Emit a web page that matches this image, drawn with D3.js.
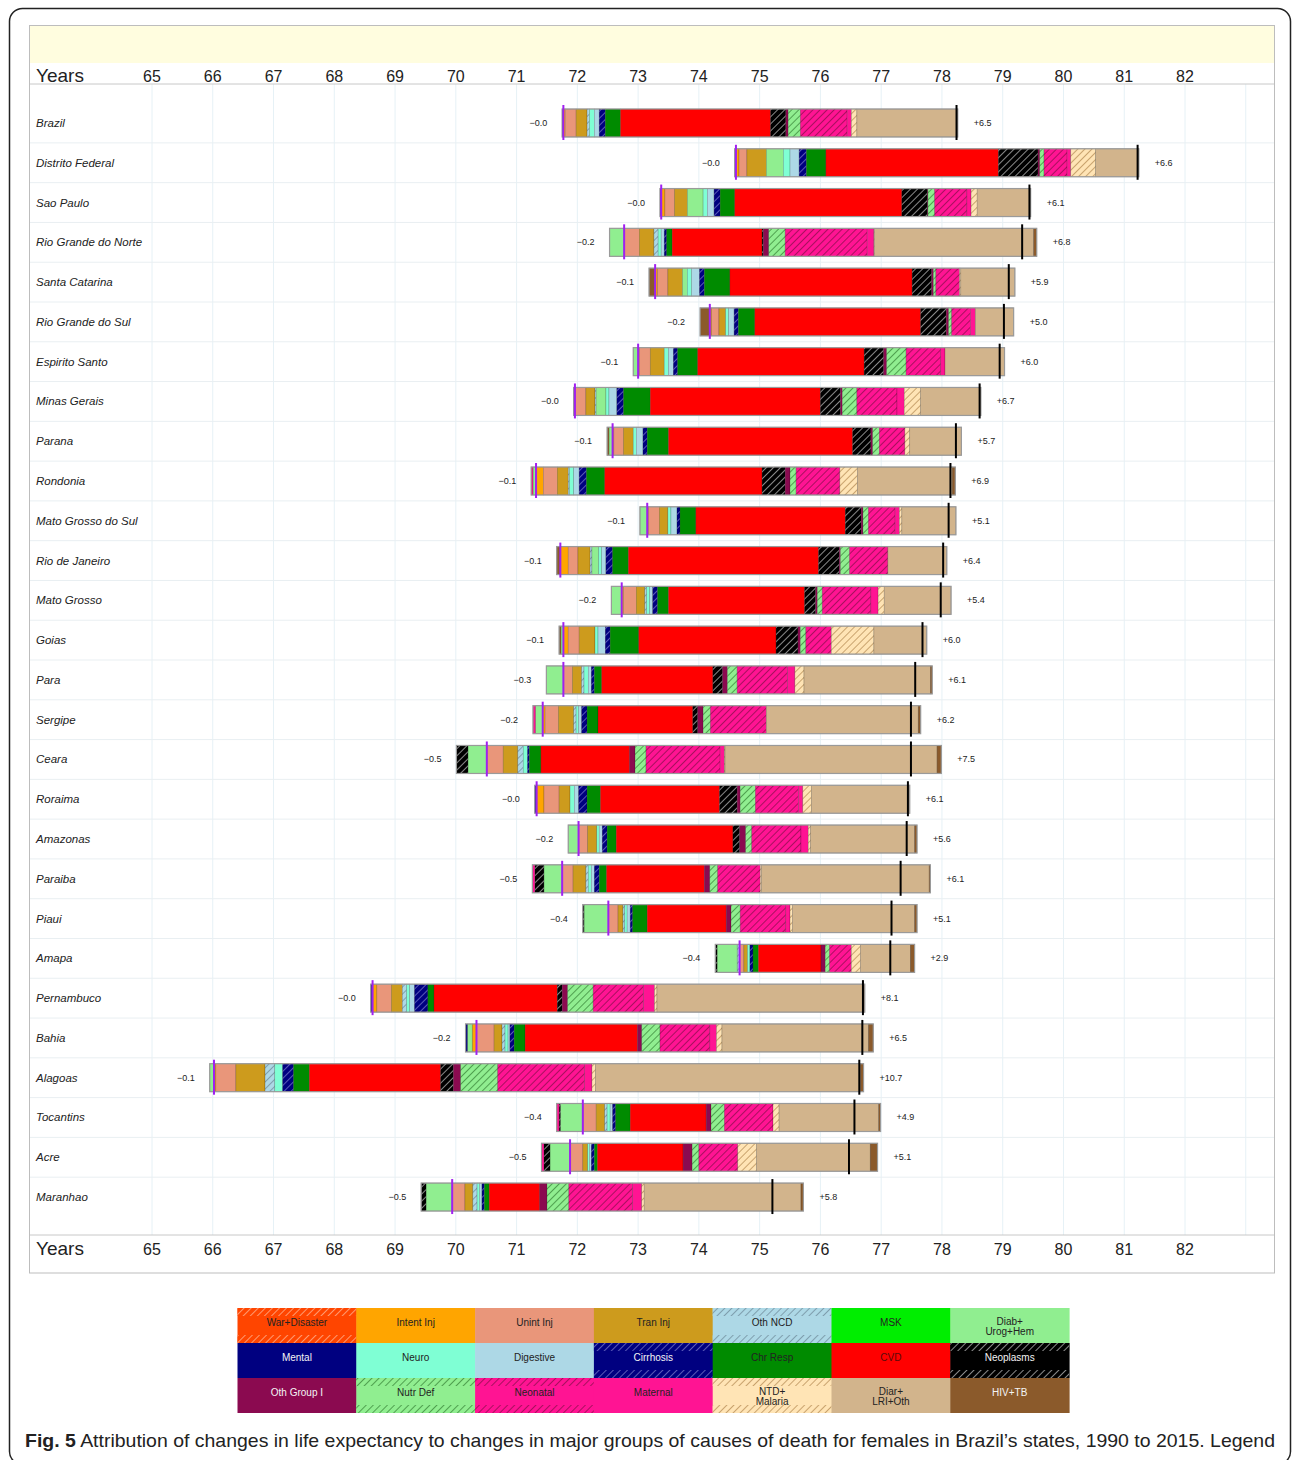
<!DOCTYPE html>
<html>
<head>
<meta charset="utf-8">
<script src="https://cdn.jsdelivr.net/npm/d3@7"></script>
<style>
  body { margin: 0; background: #fff; }
  text { font-family: "Liberation Sans", Arial, sans-serif; }
</style>
</head>
<body>
<script>
// ---- data ----
const states = ["Brazil", "Distrito Federal", "Sao Paulo", "Rio Grande do Norte", "Santa Catarina",
  "Rio Grande do Sul", "Espirito Santo", "Minas Gerais", "Parana", "Rondonia", "Mato Grosso do Sul",
  "Rio de Janeiro", "Mato Grosso", "Goias", "Para", "Sergipe", "Ceara", "Roraima", "Amazonas",
  "Paraiba", "Piaui", "Amapa", "Pernambuco", "Bahia", "Alagoas", "Tocantins", "Acre", "Maranhao"];

// life expectancy 1990 (purple marker)
const le1990 = [71.77, 74.61, 73.38, 72.77, 73.28, 74.18, 73.00, 71.96, 72.58, 71.32, 73.15,
  71.72, 72.73, 71.77, 71.77, 71.43, 70.51, 71.33, 72.02, 71.75, 72.51, 74.67, 68.63, 70.34,
  66.02, 72.09, 71.88, 69.94];

const causes = ["War+Disaster", "Intent Inj", "Unint Inj", "Tran Inj", "Oth NCD", "MSK", "Diab+\nUrog+Hem",
  "Mental", "Neuro", "Digestive", "Cirrhosis", "Chr Resp", "CVD", "Neoplasms",
  "Oth Group I", "Nutr Def", "Neonatal", "Maternal", "NTD+\nMalaria", "Diar+\nLRI+Oth", "HIV+TB"];

// contribution (years) of each cause, same order as causes
const contrib = [
  [0, 0.03, 0.18, 0.18, 0.04, 0, 0, -0.02, 0.08, 0.08, 0.10, 0.25, 2.47, 0.25, 0.04, 0.20, 0.77, 0.07, 0.09, 1.66, 0],
  [0, 0.05, 0.13, 0.32, 0, 0, 0.28, -0.02, 0.11, 0.15, 0.12, 0.32, 2.84, 0.65, 0.03, 0.07, 0.38, 0.06, 0.41, 0.71, 0],
  [0, 0.06, 0.16, 0.21, 0, 0, 0.26, -0.02, 0.07, 0.11, 0.10, 0.24, 2.75, 0.42, 0.01, 0.11, 0.53, 0.07, 0.10, 0.88, 0],
  [0, 0, 0.25, 0.24, 0.07, 0, -0.24, 0, 0.05, 0.05, 0.04, 0.09, 1.48, 0.02, 0.09, 0.27, 1.35, 0.11, 0.01, 2.62, 0.05],
  [0, 0.04, 0.17, 0.24, 0, 0, 0.08, 0, 0.07, 0.13, 0.08, 0.42, 3.00, 0.32, 0.03, 0.04, 0.39, 0, 0.02, 0.89, -0.10],
  [0, 0.03, 0.12, 0.11, 0, 0, 0, 0, 0.05, 0.09, 0.07, 0.27, 2.73, 0.42, 0.04, 0.05, 0.31, 0.08, 0, 0.63, -0.16],
  [0, 0.02, 0.18, 0.23, 0, 0, -0.08, 0, 0.07, 0.08, 0.07, 0.33, 2.74, 0.32, 0.05, 0.32, 0.57, 0.07, 0, 0.98, 0],
  [0, 0, 0.18, 0.15, 0.02, 0, 0.16, -0.02, 0.05, 0.13, 0.11, 0.44, 2.80, 0.33, 0.03, 0.24, 0.66, 0.12, 0.27, 0.99, 0],
  [0, 0.02, 0.16, 0.16, 0, 0, -0.06, 0, 0.05, 0.11, 0.07, 0.35, 3.03, 0.30, 0.03, 0.11, 0.42, 0, 0.08, 0.85, -0.03],
  [0, 0.12, 0.23, 0.18, 0.02, 0, -0.05, 0, 0.07, 0.09, 0.12, 0.30, 2.59, 0.38, 0.08, 0.10, 0.72, -0.03, 0.29, 1.56, 0.05],
  [0, 0.02, 0.18, 0.14, 0, 0, -0.12, 0, 0.05, 0.10, 0.05, 0.26, 2.46, 0.26, 0.03, 0.09, 0.44, 0.07, 0.04, 0.89, 0],
  [0, 0.13, 0.16, 0.20, 0.03, 0, 0.11, 0, 0.05, 0.07, 0.11, 0.26, 3.13, 0.34, 0.02, 0.15, 0.63, 0, 0, 0.97, -0.06],
  [0, 0.03, 0.21, 0.14, 0.03, 0, -0.17, 0, 0.05, 0.05, 0.08, 0.18, 2.24, 0.18, 0.03, 0.08, 0.80, 0.12, 0.10, 1.10, 0],
  [0, 0.08, 0.18, 0.26, 0, 0, -0.04, 0, 0.05, 0.12, 0.08, 0.47, 2.26, 0.36, 0.04, 0.09, 0.42, 0, 0.70, 0.87, -0.03],
  [0, 0, 0.15, 0.15, 0.04, 0, -0.28, 0, 0.07, 0.05, 0.05, 0.12, 1.83, 0.16, 0.08, 0.16, 0.83, 0.12, 0.15, 2.08, 0.03],
  [0, 0.04, 0.22, 0.25, 0.04, 0, -0.12, 0, 0.04, 0.05, 0.09, 0.18, 1.56, 0.08, 0.09, 0.12, 0.92, -0.04, 0, 2.50, 0.04],
  [0, 0, 0.27, 0.24, 0.09, 0, -0.31, 0, 0.07, 0, 0.03, 0.19, 1.46, -0.19, 0.09, 0.18, 1.22, 0.07, 0.01, 3.49, 0.07],
  [0, 0.12, 0.25, 0.18, 0, 0, 0, -0.03, 0.07, 0.07, 0.14, 0.22, 1.96, 0.29, 0.05, 0.25, 0.71, 0.07, 0.14, 1.62, 0],
  [0, 0, 0.15, 0.15, 0, 0, -0.17, 0, 0.04, 0.05, 0.08, 0.15, 1.92, 0.11, 0.10, 0.10, 0.81, 0.12, 0.04, 1.71, 0.04],
  [0, 0, 0.18, 0.21, 0.04, 0, -0.30, 0, 0.05, 0.05, 0.08, 0.12, 1.61, -0.15, 0.09, 0.13, 0.70, -0.04, 0.02, 2.76, 0.02],
  [0, 0, 0.16, 0.08, 0.03, 0, -0.40, 0, 0.04, 0.05, 0.04, 0.24, 1.30, -0.02, 0.08, 0.15, 0.75, 0.07, 0.04, 2.01, 0.04],
  [0, 0, 0.07, 0.06, -0.04, 0, -0.33, 0, 0.04, 0, 0.05, 0.09, 1.03, -0.03, 0.07, 0.07, 0.36, 0, 0.15, 0.82, 0.07],
  [0, 0.07, 0.24, 0.18, 0.07, 0, 0, -0.03, 0.05, 0.08, 0.22, 0.10, 2.03, 0.08, 0.09, 0.42, 0.83, 0.18, 0.04, 3.38, 0.04],
  [0, -0.07, 0.29, 0.13, 0.05, 0, -0.08, -0.03, 0.05, 0.03, 0.07, 0.18, 1.85, 0, 0.07, 0.30, 0.82, 0.11, 0.09, 2.41, 0.08],
  [0, 0.03, 0.33, 0.48, 0.16, 0, -0.07, 0, 0.13, 0, 0.18, 0.26, 2.16, 0.21, 0.12, 0.61, 1.43, 0.12, 0.06, 4.36, 0.05],
  [0, 0, 0.22, 0.14, 0.04, 0, -0.37, 0, 0.05, 0.04, 0.05, 0.24, 1.25, -0.02, 0.08, 0.22, 0.80, -0.04, 0.10, 1.64, 0.03],
  [0, 0, 0.21, 0.08, 0, 0, -0.33, 0, 0.03, 0.03, 0.05, 0.05, 1.41, -0.10, 0.15, 0.11, 0.64, -0.04, 0.31, 1.87, 0.12],
  [0, 0, 0.21, 0.13, 0.07, 0, -0.43, 0, 0.04, 0.04, 0.04, 0.08, 0.83, -0.08, 0.12, 0.36, 1.05, 0.15, 0.04, 2.58, 0.04]
];

const years = d3.range(65, 83);

// ---- styles ----
const causeColors = ["#FF4500", "#FFA500", "#E9967A", "#CD9B1D", "#ADD8E6", "#00EE00", "#90EE90",
  "#000080", "#7FFFD4", "#ADD8E6", "#000080", "#008B00", "#FF0000", "#000000",
  "#8B0A50", "#90EE90", "#FF1493", "#FF1493", "#FFE4B5", "#D2B48C", "#8B5A2B"];
const hatchColors = {0: "#ff9a70", 4: "#7f9fae", 10: "#5a5ab8", 13: "#8a8a8a",
  15: "#4fa04f", 16: "#a8105e", 18: "#c9a36e"};
const lightText = [7, 10, 13, 14, 20];

const svg = d3.select("body").append("svg")
    .attr("width", 1292)
    .attr("height", 1460);

const defs = svg.append("defs");
Object.keys(hatchColors).forEach(function(k) {
  const p = defs.append("pattern")
      .attr("id", "h" + k)
      .attr("patternUnits", "userSpaceOnUse")
      .attr("width", 5).attr("height", 5)
      .attr("patternTransform", "rotate(45)");
  p.append("rect").attr("width", 5).attr("height", 5).attr("fill", causeColors[k]);
  p.append("line").attr("x1", 2.5).attr("x2", 2.5).attr("y1", 0).attr("y2", 5)
      .attr("stroke", hatchColors[k]).attr("stroke-width", 1);
});
const fillOf = j => hatchColors[j] ? "url(#h" + j + ")" : causeColors[j];

// outer frame (bottom edge runs just off the page)
svg.append("rect")
    .attr("x", 9.5).attr("y", 8.5).attr("width", 1281).attr("height", 1456)
    .attr("rx", 13).attr("fill", "none").attr("stroke", "#222").attr("stroke-width", 1.5);

// scales
const x = d3.scaleLinear().domain([65, 82]).range([152, 1185]);
const y = d3.scaleBand().domain(states).range([103.1, 103.1 + states.length * 39.78]);

// panel
const panelTop = 25.5, panelBottom = 1273, panelLeft = 29.5, panelRight = 1274.5;
svg.append("rect")
    .attr("x", panelLeft).attr("y", panelTop + 0.5)
    .attr("width", panelRight - panelLeft).attr("height", 37)
    .attr("fill", "#FFFDDF");
svg.append("g").selectAll("line").data(d3.range(65, 84)).join("line")
    .attr("x1", d => x(d)).attr("x2", d => x(d))
    .attr("y1", 84).attr("y2", 1235)
    .attr("stroke", "#e6f1f6").attr("stroke-width", 1);
svg.append("g").selectAll("line").data(states.slice(1)).join("line")
    .attr("x1", panelLeft).attr("x2", panelRight)
    .attr("y1", d => y(d)).attr("y2", d => y(d))
    .attr("stroke", "#e9eff2").attr("stroke-width", 1);
[84, 1235].forEach(function(yy) {
  svg.append("line").attr("x1", panelLeft).attr("x2", panelRight)
      .attr("y1", yy).attr("y2", yy).attr("stroke", "#c8c8c8");
});
svg.append("rect")
    .attr("x", panelLeft).attr("y", panelTop)
    .attr("width", panelRight - panelLeft).attr("height", panelBottom - panelTop)
    .attr("fill", "none").attr("stroke", "#bdbdbd");

// year headers
[81.5, 1255].forEach(function(base) {
  svg.append("text").attr("x", 36).attr("y", base)
      .attr("font-size", 19).attr("fill", "#222").text("Years");
  svg.append("g").selectAll("text").data(years).join("text")
      .attr("x", d => x(d)).attr("y", base)
      .attr("text-anchor", "middle").attr("font-size", 16).attr("fill", "#222")
      .text(d => d);
});

// bars
const barH = 28;
const rows = svg.append("g");
states.forEach(function(s, i) {
  const cy = y(s) + y.bandwidth() / 2;
  const g = rows.append("g");
  let pos = le1990[i], neg = le1990[i];
  const segs = [];
  contrib[i].forEach(function(v, j) {
    if (v > 0) { segs.push({j: j, a: pos, b: pos + v}); pos += v; }
    else if (v < 0) { segs.push({j: j, a: neg + v, b: neg}); neg += v; }
  });
  const sumPos = pos - le1990[i], sumNeg = le1990[i] - neg;
  const le2015 = le1990[i] + sumPos - sumNeg;

  g.append("text").attr("x", 36).attr("y", cy + 4)
      .attr("font-size", 11.5).attr("font-style", "italic").attr("fill", "#222").text(s);

  g.selectAll("rect.seg").data(segs).join("rect")
      .attr("class", "seg")
      .attr("x", d => x(d.a)).attr("width", d => x(d.b) - x(d.a))
      .attr("y", cy - barH / 2).attr("height", barH)
      .attr("fill", d => fillOf(d.j))
      .attr("stroke", "rgba(0,0,0,0.28)").attr("stroke-width", 0.6);
  g.append("rect")
      .attr("x", x(neg)).attr("width", x(pos) - x(neg))
      .attr("y", cy - barH / 2).attr("height", barH)
      .attr("fill", "none").attr("stroke", "#9a9a9a").attr("stroke-width", 1.2);

  g.append("line").attr("x1", x(le1990[i])).attr("x2", x(le1990[i]))
      .attr("y1", cy - 18).attr("y2", cy + 17)
      .attr("stroke", "#A020F0").attr("stroke-width", 2);
  g.append("line").attr("x1", x(le2015)).attr("x2", x(le2015))
      .attr("y1", cy - 18).attr("y2", cy + 17)
      .attr("stroke", "#000").attr("stroke-width", 2);

  g.append("text").attr("x", x(neg) - 15).attr("y", cy + 3)
      .attr("text-anchor", "end").attr("font-size", 9).attr("fill", "#222")
      .text("\u2212" + sumNeg.toFixed(1));
  g.append("text").attr("x", x(pos) + 16).attr("y", cy + 3)
      .attr("font-size", 9).attr("fill", "#222")
      .text("+" + sumPos.toFixed(1));
});

// legend
const lgLeft = 237.5, lgTop = 1308, cellW = 118.8, cellH = 35;
const lg = svg.append("g");
causes.forEach(function(c, j) {
  const cx = lgLeft + (j % 7) * cellW, ty = lgTop + Math.floor(j / 7) * cellH;
  lg.append("rect").attr("x", cx).attr("y", ty).attr("width", cellW + 0.5).attr("height", cellH)
      .attr("fill", causeColors[j]);
  if (hatchColors[j]) {
    [0, cellH - 8].forEach(function(off) {
      lg.append("rect").attr("x", cx).attr("y", ty + off).attr("width", cellW).attr("height", 8)
          .attr("fill", "url(#h" + j + ")");
    });
  }
  const lines = c.split("\n");
  const t = lg.append("text").attr("text-anchor", "middle").attr("font-size", 10)
      .attr("fill", lightText.includes(j) ? "#f4f4f4" : (j === 12 ? "#5a0a0a" : "#222"));
  lines.forEach(function(l, k) {
    t.append("tspan").attr("x", cx + cellW / 2)
        .attr("y", ty + (lines.length === 1 ? 18 : 17 + k * 9.5)).text(l);
  });
});

// caption
const cap = svg.append("text").attr("x", 25).attr("y", 1447).attr("font-size", 19)
    .attr("fill", "#222")
    .attr("textLength", 1250).attr("lengthAdjust", "spacingAndGlyphs");
cap.append("tspan").attr("font-weight", "bold").text("Fig. 5");
cap.append("tspan").text(" Attribution of changes in life expectancy to changes in major groups of causes of death for females in Brazil\u2019s states, 1990 to 2015. Legend");
</script>
</body>
</html>
